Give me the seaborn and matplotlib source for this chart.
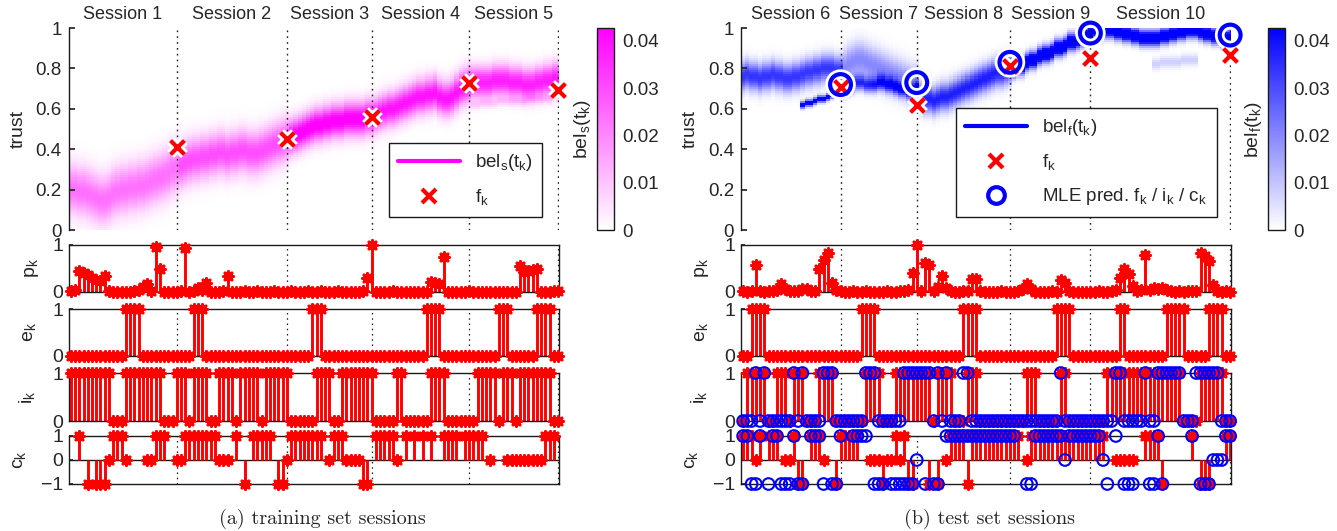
import numpy as np
import matplotlib
matplotlib.use("Agg")
import matplotlib.pyplot as plt
from matplotlib.colors import LinearSegmentedColormap
from matplotlib.lines import Line2D
import seaborn as sns

nan = np.nan

# ---------------- data ----------------
train_sessions = ["Session 1", "Session 2", "Session 3", "Session 4", "Session 5"]
train_session_len = [26, 26, 20, 23, 21]
test_sessions = ["Session 6", "Session 7", "Session 8", "Session 9", "Session 10"]
test_session_len = [24, 18, 22, 19, 33]

# f_k (reported trust at the end of each session) and MLE predictions
train_f = [0.41, 0.45, 0.56, 0.73, 0.695]
test_f = [0.71, 0.62, 0.81, 0.85, 0.865]
test_f_pred = [0.72, 0.73, 0.83, 0.975, 0.965]

# belief band: centre of the main mode per step, per-session peak / spread
train_mu = [
    0.20, 0.20, 0.19, 0.19, 0.18, 0.17, 0.16, 0.15, 0.15, 0.16,
    0.18, 0.19, 0.20, 0.20, 0.21, 0.21, 0.22, 0.22, 0.23, 0.24,
    0.25, 0.26, 0.27, 0.28, 0.30, 0.31, 0.32, 0.33, 0.34, 0.35,
    0.35, 0.36, 0.36, 0.37, 0.37, 0.38, 0.38, 0.37, 0.38, 0.38,
    0.39, 0.39, 0.38, 0.38, 0.38, 0.39, 0.40, 0.41, 0.42, 0.43,
    0.44, 0.45, 0.46, 0.47, 0.48, 0.49, 0.50, 0.51, 0.52, 0.52,
    0.53, 0.53, 0.54, 0.54, 0.54, 0.55, 0.55, 0.55, 0.55, 0.55,
    0.56, 0.56, 0.57, 0.58, 0.59, 0.60, 0.60, 0.61, 0.62, 0.63,
    0.64, 0.65, 0.66, 0.66, 0.67, 0.67, 0.68, 0.66, 0.65, 0.65,
    0.66, 0.68, 0.70, 0.71, 0.72, 0.73, 0.73, 0.73, 0.73, 0.73,
    0.74, 0.74, 0.74, 0.74, 0.73, 0.73, 0.73, 0.72, 0.72, 0.72,
    0.73, 0.73, 0.74, 0.74, 0.75, 0.75]
train_mu_b = [None] * 95 + [
    0.62, 0.62, 0.63, 0.63, 0.63, 0.63, 0.64, 0.64, 0.64, 0.64,
    0.64, 0.64, 0.64, 0.65, 0.65, 0.65, 0.65, 0.65, 0.65, 0.66, 0.66]
train_amp = [0.024, 0.030, 0.045, 0.040, 0.038]
train_sig = [0.08, 0.07, 0.055, 0.055, 0.05]
train_amp_b = [0, 0, 0, 0, 0.007]
train_sig_b = [0.02, 0.02, 0.02, 0.02, 0.015]

test_mu = [
    0.76, 0.77, 0.76, 0.76, 0.75, 0.76, 0.76, 0.77, 0.76, 0.76,
    0.75, 0.75, 0.76, 0.76, 0.77, 0.78, 0.78, 0.79, 0.79, 0.80,
    0.80, 0.80, 0.79, 0.79,
    0.80, 0.82, 0.83, 0.84, 0.84, 0.83, 0.82, 0.81, 0.80, 0.79,
    0.78, 0.77, 0.76, 0.75, 0.74, 0.73, 0.72, 0.72,
    0.66, 0.65, 0.65, 0.64, 0.65, 0.66, 0.66, 0.67, 0.68, 0.69,
    0.70, 0.71, 0.72, 0.73, 0.74, 0.75, 0.76, 0.77, 0.78, 0.78,
    0.79, 0.80,
    0.80, 0.81, 0.81, 0.83, 0.84, 0.84, 0.86, 0.87, 0.87, 0.88,
    0.90, 0.90, 0.91, 0.93, 0.93, 0.94, 0.95, 0.96, 0.97,
    0.99, 0.99, 0.99, 0.99, 0.99, 0.98, 0.98, 0.97, 0.97, 0.96,
    0.96, 0.95, 0.95, 0.95, 0.95, 0.95, 0.96, 0.96, 0.97, 0.97,
    0.98, 0.98, 0.99, 0.99, 0.99, 0.98, 0.97, 0.97, 0.96, 0.96,
    0.95, 0.95, 0.95]
test_mu_b = ([None] * 14
             + [0.62, 0.63, 0.63, 0.64, 0.65, 0.65, 0.66, 0.67, 0.68, 0.69]
             + [0.70, 0.71, 0.72, 0.73, 0.73, 0.72, 0.72, 0.72, 0.73, 0.73,
                0.72, 0.72, 0.71, 0.70, 0.70, 0.69, 0.69, 0.70]
             + [None] * 55
             + [0.82, 0.82, 0.83, 0.83, 0.83, 0.83, 0.83, 0.84, 0.84, 0.84, 0.84]
             + [None] * 8)
test_amp = [0.034, 0.020, 0.038, 0.060, 0.060]
test_sig = [0.045, 0.06, 0.045, 0.028, 0.026]
test_amp_b = [0.045, 0.034, 0, 0, 0.008]
test_sig_b = [0.012, 0.025, 0.02, 0.02, 0.02]

# stem series, training sessions (k = 1..116)
train_p = [
    0.02, 0.05, 0.45, 0.40, 0.36, 0.30, 0.25, 0.24, 0.34, 0.02,
    0.01, 0.01, 0.01, 0.01, 0.01, 0.02, 0.05, 0.10, 0.18, 0.03,
    0.95, 0.48, 0.01, 0.00, 0.01, 0.01, 0.02, 0.93, 0.01, 0.02,
    0.08, 0.05, 0.20, 0.01, 0.01, 0.01, 0.02, 0.34, 0.01, 0.01,
    0.01, 0.02, 0.01, 0.01, 0.02, 0.01, 0.01, 0.01, 0.02, 0.01,
    0.01, 0.01, 0.02, 0.01, 0.01, 0.01, 0.03, 0.01, 0.01, 0.02,
    0.01, 0.01, 0.01, 0.02, 0.01, 0.01, 0.01, 0.01, 0.01, 0.02,
    0.30, 1.00, 0.01, 0.01, 0.01, 0.01, 0.02, 0.01, 0.01, 0.01,
    0.01, 0.01, 0.01, 0.01, 0.01, 0.22, 0.20, 0.18, 0.74, 0.01,
    0.01, 0.01, 0.01, 0.01, 0.02, 0.01, 0.01, 0.01, 0.01, 0.01,
    0.01, 0.01, 0.01, 0.01, 0.01, 0.01, 0.56, 0.42, 0.44, 0.46,
    0.48, 0.01, 0.01, 0.01, 0.02, 0.02]
train_e = [
    0, 0, 0, 0, 0, 0, 0, 0, 0, 0,
    0, 0, 0, 1, 1, 1, 1, 0, 0, 0,
    0, 0, 0, 0, 0, 0, 0, 0, 0, 1,
    1, 1, 0, 0, 0, 0, 0, 0, 0, 0,
    0, 0, 0, 0, 0, 0, 0, 0, 0, 0,
    0, 0, 0, 0, 0, 0, 0, 1, 1, 1,
    0, 0, 0, 0, 0, 0, 0, 0, 0, 0,
    0, 0, 0, 0, 0, 0, 0, 0, 0, 0,
    0, 0, 0, 0, 1, 1, 1, 1, 0, 0,
    0, 0, 0, 0, 0, 0, 0, 0, 0, 0,
    0, 1, 1, 1, 0, 0, 0, 0, 0, 0,
    1, 1, 1, 1, 0, 0]
train_i = [
    1, 1, 1, 1, 1, 1, 1, 1, 1, 1,
    0, 0, 0, 1, 1, 1, 1, 1, 1, 1,
    1, 1, 0, 0, 0, 1, 1, 1, 0, 1,
    1, 1, 1, 0, 0, 1, 1, 1, 1, 0,
    1, 1, 1, 1, 1, 0, 1, 1, 1, 1,
    1, 1, 0, 0, 0, 0, 0, 0, 1, 1,
    1, 1, 0, 0, 1, 1, 1, 1, 1, 1,
    1, 1, 0, 0, 0, 0, 0, 1, 1, 0,
    0, 0, 0, 0, 0, 1, 1, 1, 1, 0,
    0, 0, 0, 0, 0, 0, 1, 1, 1, 1,
    1, 0, 1, 1, 1, 0, 1, 1, 1, 1,
    1, 1, 1, 1, 0, 0]
train_c = [
    nan, nan, 1, nan, -1, nan, -1, -1, -1, 0,
    1, 1, 1, 0, nan, nan, nan, nan, 0, 0,
    1, 1, 1, nan, nan, 0, 0, 1, 1, 1,
    1, 1, 1, 1, 1, 0, 0, 0, nan, 1,
    nan, -1, nan, 1, 1, 1, 1, 1, nan, -1,
    -1, 0, 1, 1, 1, 1, 1, 1, 1, 1,
    nan, 0, 1, 1, 1, 0, 0, 0, 0, -1,
    -1, nan, 1, 1, 1, 1, 1, 0, nan, 1,
    nan, 1, nan, 1, nan, 1, nan, nan, 1, 1,
    1, 1, nan, 1, 1, 1, 1, 1, nan, 0,
    nan, nan, nan, 0, 0, 0, 0, 0, 0, 0,
    0, 0, 1, 1, 1, nan]

# stem series, test sessions (k = 1..116)
test_p = [
    0.02, 0.01, 0.02, 0.58, 0.02, 0.01, 0.02, 0.03, 0.05, 0.17,
    0.06, 0.03, 0.02, 0.03, 0.06, 0.07, 0.03, 0.02, 0.48, 0.68,
    0.82, 0.20, 0.05, 0.02, 0.01, 0.01, 0.02, 0.01, 0.01, 0.02,
    0.01, 0.01, 0.01, 0.01, 0.02, 0.01, 0.01, 0.02, 0.02, 0.05,
    0.40, 1.00, 0.02, 0.62, 0.58, 0.02, 0.10, 0.34, 0.08, 0.02,
    0.01, 0.01, 0.02, 0.02, 0.27, 0.28, 0.02, 0.01, 0.01, 0.01,
    0.01, 0.02, 0.01, 0.01, 0.01, 0.02, 0.06, 0.17, 0.06, 0.01,
    0.01, 0.01, 0.01, 0.02, 0.01, 0.25, 0.20, 0.02, 0.01, 0.01,
    0.01, 0.01, 0.01, 0.01, 0.02, 0.01, 0.01, 0.02, 0.05, 0.30,
    0.48, 0.38, 0.12, 0.03, 0.05, 0.78, 0.05, 0.08, 0.06, 0.09,
    0.05, 0.02, 0.01, 0.02, 0.01, 0.02, 0.02, 0.02, 0.84, 0.77,
    0.66, 0.15, 0.02, 0.01, 0.02, 0.01]
test_e = [
    0, 0, 1, 1, 1, 1, 0, 0, 0, 0,
    0, 0, 0, 0, 0, 0, 0, 0, 0, 0,
    0, 0, 0, 0, 0, 0, 0, 0, 1, 1,
    1, 1, 0, 0, 0, 0, 0, 0, 0, 0,
    0, 0, 0, 0, 0, 0, 0, 0, 0, 0,
    0, 0, 1, 1, 1, 1, 0, 0, 0, 0,
    0, 0, 0, 0, 0, 0, 0, 0, 0, 0,
    0, 0, 0, 0, 1, 1, 1, 1, 0, 0,
    0, 0, 0, 0, 0, 0, 0, 0, 0, 1,
    1, 0, 0, 0, 0, 0, 0, 0, 0, 0,
    1, 1, 1, 1, 1, 0, 0, 0, 0, 0,
    1, 1, 1, 1, 0, 0]
test_i = [
    0, 1, 1, 1, 1, 1, 0, 0, 1, 1,
    1, 0, 1, 1, 1, 0, 0, 0, 1, 1,
    1, 1, 0, 0, 0, 0, 0, 0, 0, 1,
    1, 1, 1, 0, 0, 0, 1, 1, 1, 1,
    1, 1, 1, 1, 1, 0, 1, 1, 1, 1,
    0, 0, 0, 1, 1, 1, 0, 0, 0, 0,
    0, 0, 0, 0, 0, 0, 0, 1, 1, 1,
    0, 0, 0, 0, 0, 1, 1, 0, 0, 0,
    0, 0, 0, 0, 0, 0, 1, 1, 1, 1,
    1, 1, 1, 1, 1, 1, 1, 1, 1, 1,
    1, 1, 1, 1, 0, 0, 0, 0, 1, 1,
    1, 1, 1, 1, 0, 0]
test_i_pred = [
    0, 0, 0, 1, 0, 1, 0, 0, 0, 0,
    0, 0, 1, 0, 1, 0, 0, 0, 0, 1,
    1, 1, 0, 0, 0, 0, 0, 0, 0, 1,
    1, 1, 0, 0, 0, 0, 0, 0, 1, 1,
    1, 1, 1, 1, 1, 0, 1, 0, 1, 0,
    0, 0, 1, 1, 0, 0, 0, 0, 0, 0,
    0, 0, 0, 0, 0, 0, 0, 0, 0, 0,
    0, 0, 0, 0, 0, 1, 0, 0, 0, 0,
    0, 0, 0, 0, 0, 0, 0, 0, 1, 1,
    0, 0, 0, 0, 0, 1, 0, 0, 1, 1,
    1, 1, 1, 1, 0, 0, 0, 1, 1, 1,
    1, 1, 1, 0, 0, 0]
test_c = [
    1, 1, 1, 0, 1, nan, 1, 1, 1, nan,
    0, 0, 1, -1, -1, nan, 1, 1, 1, 0,
    nan, nan, -1, 1, 1, 1, 1, 1, nan, nan,
    0, 0, 0, -1, 0, 0, 1, 0, 1, -1,
    -1, nan, nan, nan, -1, nan, -1, nan, 0, 1,
    1, 1, 1, -1, 1, 1, 1, 1, 1, 1,
    1, 1, 1, 1, 1, 1, nan, 0, 1, 1,
    1, 1, 1, 1, 1, 1, 1, 1, 1, 1,
    1, 1, 1, 1, 1, 1, nan, nan, 0, 0,
    0, 0, 0, nan, nan, 1, 1, 1, 1, -1,
    nan, nan, nan, nan, nan, nan, 1, nan, -1, -1,
    -1, nan, nan, nan, 1, 1]
test_c_pred = [
    1, 1, -1, -1, 1, nan, -1, 1, 1, -1,
    -1, -1, 1, -1, -1, nan, 1, 1, 1, -1,
    nan, -1, -1, 1, nan, nan, 1, 1, 1, 1,
    nan, -1, -1, -1, nan, -1, -1, -1, -1, -1,
    -1, 0, nan, -1, nan, -1, -1, nan, 1, 1,
    1, 1, 1, 1, 1, 1, 1, 1, 1, 1,
    1, 1, 1, 1, 1, nan, nan, -1, -1, 1,
    1, 1, 1, 1, 1, 1, 0, 1, 1, 1,
    1, 1, 1, 1, 1, 0, -1, nan, 1, nan,
    -1, -1, -1, nan, nan, nan, -1, -1, 1, -1,
    nan, nan, nan, nan, nan, nan, 1, nan, -1, -1,
    -1, 0, 0, 0, 1, 1]

# ---------------- figure ----------------
sns.set_theme(style="white")
plt.rcParams["font.family"] = ["Liberation Sans", "DejaVu Sans"]
plt.rcParams["axes.unicode_minus"] = True

W, H = 1337, 531
fig = plt.figure(figsize=(W / 100, H / 100), dpi=100)


def box(x0, y0, x1, y1):
    # pixel box -> figure fraction
    return [x0 / W, 1 - y1 / H, (x1 - x0) / W, (y1 - y0) / H]


XLIM = (0.5, 116.2)
CB_MAX = 0.0427
DOTS = (0, (1.2, 3))


def belief_density(mu, amp, sig, mu_b, amp_b, sig_b, lengths):
    sess = np.repeat(np.arange(len(lengths)), lengths)
    t = ((np.arange(100) + 0.5) / 100)[:, None]
    m = np.array(mu, float)[None, :]
    dens = np.array(amp)[sess] * np.exp(-0.5 * ((t - m) / np.array(sig)[sess]) ** 2)
    mb = np.array([nan if v is None else v for v in mu_b], float)[None, :]
    db = np.array(amp_b)[sess] * np.exp(-0.5 * ((t - mb) / np.array(sig_b)[sess]) ** 2)
    return dens + np.nan_to_num(db)


def top_panel(rect, cbrect, dens, color, lengths, names, f, f_pred, cb_label, legend_items, leg_anchor):
    ax = fig.add_axes(rect)
    cax = fig.add_axes(cbrect)
    ends = np.cumsum(lengths)
    n = ends[-1]
    cmap = LinearSegmentedColormap.from_list("bel", ["white", color])
    mesh = ax.pcolormesh(np.arange(n + 1) + 0.5, np.linspace(0, 1, 101), dens,
                         cmap=cmap, vmin=0, vmax=CB_MAX, shading="flat", zorder=0)
    for e in ends:
        ax.axvline(e, color="k", ls=DOTS, lw=1, zorder=1)
    prev = np.concatenate([[XLIM[0]], ends[:-1]])
    for name, a, b in zip(names, prev, ends):
        ax.text((a + b) / 2, 1.065, name, transform=ax.get_xaxis_transform(),
                ha="center", va="center", fontsize=13)
    if f_pred is not None:
        sns.scatterplot(x=ends, y=f_pred, ax=ax, marker="o", s=225, color="white",
                        facecolor="none", edgecolor="white", linewidth=7, zorder=4, clip_on=False)
    sns.scatterplot(x=ends, y=f, ax=ax, marker="x", s=100, color="white",
                    linewidth=7, zorder=5, clip_on=False)
    sns.scatterplot(x=ends, y=f, ax=ax, marker="x", s=100, color="red",
                    linewidth=3, zorder=6, clip_on=False)
    if f_pred is not None:
        sns.scatterplot(x=ends, y=f_pred, ax=ax, marker="o", s=225, color="blue",
                        facecolor="none", edgecolor="blue", linewidth=3, zorder=7, clip_on=False)
    ax.set_xlim(*XLIM)
    ax.set_ylim(0, 1)
    ax.set_xticks([])
    ax.set_yticks([0, 0.2, 0.4, 0.6, 0.8, 1])
    ax.set_yticklabels(["0", "0.2", "0.4", "0.6", "0.8", "1"])
    ax.tick_params(axis="y", left=True, direction="in", length=4, labelsize=13.5, pad=5)
    for s in ["top", "right", "bottom"]:
        ax.spines[s].set_visible(False)
    ax.spines["left"].set_color("k")
    ax.spines["left"].set_linewidth(1)
    ax.set_xlabel("")
    ax.set_ylabel("trust", fontsize=14, va="center")
    ax.yaxis.set_label_coords(-0.103, 0.5)

    handles, labels = zip(*legend_items)
    leg = ax.legend(handles, labels, loc="lower right", bbox_to_anchor=leg_anchor,
                    fontsize=13.5, frameon=True, fancybox=False, edgecolor="k",
                    framealpha=1, handlelength=3.3, borderpad=0.5, labelspacing=0.75,
                    handletextpad=0.8)
    leg.get_frame().set_linewidth(1)
    leg.set_zorder(10)

    cb = fig.colorbar(mesh, cax=cax, ticks=[0, 0.01, 0.02, 0.03, 0.04])
    cb.ax.set_yticklabels(["0", "0.01", "0.02", "0.03", "0.04"])
    cb.outline.set_edgecolor("k")
    cb.outline.set_linewidth(1)
    cb.ax.tick_params(right=True, direction="in", length=3, labelsize=13.5, pad=6)
    cb.ax.yaxis.set_label_position("left")
    cb.set_label(cb_label, fontsize=14, labelpad=3)
    return ax


def stem_panel(rect, vals, ylim, yticks, yticklabels, ylabel, label_x, lengths, pred=None):
    ax = fig.add_axes(rect)
    n = sum(lengths)
    k = np.arange(1, n + 1)
    v = np.asarray(vals, float)
    ok = ~np.isnan(v)
    for e in np.cumsum(lengths):
        ax.axvline(e, color="k", ls=DOTS, lw=0.9, zorder=1)
    if ylim[0] < 0:
        ax.axhline(0, color="k", lw=1, zorder=1.5)
    ax.vlines(k[ok], 0, v[ok], colors="red", lw=2.1, zorder=2)
    sns.scatterplot(x=k[ok], y=v[ok], ax=ax, marker=(8, 2, 0), s=50, color="red",
                    linewidth=2.1, zorder=3, clip_on=False)
    if pred is not None:
        pv = np.asarray(pred, float)
        okp = ~np.isnan(pv)
        sns.scatterplot(x=k[okp], y=pv[okp], ax=ax, marker="o", s=70, color="blue",
                        facecolor="none", edgecolor="blue", linewidth=1.5, zorder=4, clip_on=False)
    ax.set_xlim(*XLIM)
    ax.set_ylim(*ylim)
    ax.set_xticks([])
    ax.set_yticks(yticks)
    ax.set_yticklabels(yticklabels)
    ax.tick_params(axis="y", left=True, direction="in", length=3, labelsize=14, pad=4)
    for s in ax.spines.values():
        s.set_color("k")
        s.set_linewidth(1)
    ax.set_xlabel("")
    ax.set_ylabel(ylabel, fontsize=14, va="center")
    ax.yaxis.set_label_coords(label_x, 0.5)
    return ax


rows = [(245, 292), (309, 356), (373, 421), (436, 484)]

# ---- (a) training set ----
dens_train = belief_density(train_mu, train_amp, train_sig, train_mu_b,
                            train_amp_b, train_sig_b, train_session_len)
top_panel(box(68.7, 28, 559, 230), box(597, 28, 614, 230), dens_train, "#FF00FF",
          train_session_len, train_sessions, train_f, None, r"$\mathregular{bel_s(t_k)}$",
          [(Line2D([], [], color="#FF00FF", lw=3), r"$\mathregular{bel_s(t_k)}$"),
           (Line2D([], [], color="red", marker="x", ls="none", ms=10, mew=3), r"$\mathregular{f_k}$")],
          (0.985, 0.02))

stem_panel(box(68.7, rows[0][0], 559, rows[0][1]),
           train_p, (0, 1), [0, 1], ["0", "1"], r"$\mathregular{p_k}$", -0.075, train_session_len)
stem_panel(box(68.7, rows[1][0], 559, rows[1][1]),
           train_e, (0, 1), [0, 1], ["0", "1"], r"$\mathregular{e_k}$", -0.079, train_session_len)
stem_panel(box(68.7, rows[2][0], 559, rows[2][1]),
           train_i, (0, 1), [0, 1], ["0", "1"], r"$\mathregular{i_k}$", -0.085, train_session_len)
stem_panel(box(68.7, rows[3][0], 559, rows[3][1]),
           train_c, (-1, 1), [-1, 0, 1], ["\u22121", "0", "1"], r"$\mathregular{c_k}$", -0.1,
           train_session_len)

# ---- (b) test set ----
dens_test = belief_density(test_mu, test_amp, test_sig, test_mu_b,
                           test_amp_b, test_sig_b, test_session_len)
top_panel(box(741, 28, 1231, 230), box(1268, 28, 1285, 230), dens_test, "#0000FF",
          test_session_len, test_sessions, test_f, test_f_pred, r"$\mathregular{bel_f(t_k)}$",
          [(Line2D([], [], color="#0000FF", lw=3), r"$\mathregular{bel_f(t_k)}$"),
           (Line2D([], [], color="red", marker="x", ls="none", ms=10, mew=3), r"$\mathregular{f_k}$"),
           (Line2D([], [], color="blue", marker="o", ls="none", ms=12, mfc="none", mew=3),
            r"MLE pred. $\mathregular{f_k}$ / $\mathregular{i_k}$ / $\mathregular{c_k}$")],
          (0.99, 0.02))

stem_panel(box(741, rows[0][0], 1231, rows[0][1]),
           test_p, (0, 1), [0, 1], ["0", "1"], r"$\mathregular{p_k}$", -0.08, test_session_len)
stem_panel(box(741, rows[1][0], 1231, rows[1][1]),
           test_e, (0, 1), [0, 1], ["0", "1"], r"$\mathregular{e_k}$", -0.08, test_session_len)
stem_panel(box(741, rows[2][0], 1231, rows[2][1]),
           test_i, (0, 1), [0, 1], ["0", "1"], r"$\mathregular{i_k}$", -0.086, test_session_len,
           pred=test_i_pred)
stem_panel(box(741, rows[3][0], 1231, rows[3][1]),
           test_c, (-1, 1), [-1, 0, 1], ["\u22121", "0", "1"], r"$\mathregular{c_k}$", -0.102,
           test_session_len, pred=test_c_pred)

# captions
fig.text(322 / W, 1 - 519 / H, "(a) training set sessions", ha="center", va="center",
         fontsize=14.5, family="cmr10")
fig.text(990 / W, 1 - 519 / H, "(b) test set sessions", ha="center", va="center",
         fontsize=14.5, family="cmr10")

fig.savefig("out.png", dpi=100)
